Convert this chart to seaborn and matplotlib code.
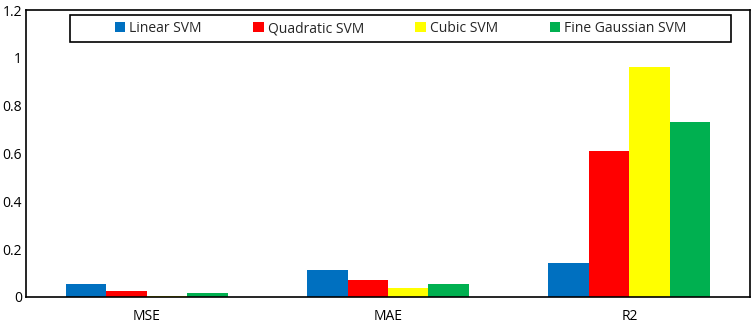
import pandas as pd
import seaborn as sns
import matplotlib.pyplot as plt
from matplotlib.patches import Rectangle

# values
metrics = ["MSE", "MAE", "R2"]
models = ["Linear SVM", "Quadratic SVM", "Cubic SVM", "Fine Gaussian SVM"]
linear_svm = [0.054, 0.113, 0.142]
quadratic_svm = [0.025, 0.071, 0.611]
cubic_svm = [0.003, 0.038, 0.962]
fine_gaussian_svm = [0.017, 0.054, 0.732]
colors = ["#0070C0", "#FF0000", "#FFFF00", "#00B050"]

rows = []
for model, vals in zip(models, [linear_svm, quadratic_svm, cubic_svm, fine_gaussian_svm]):
    for m, v in zip(metrics, vals):
        rows.append({"metric": m, "model": model, "value": v})
df = pd.DataFrame(rows)

sns.set_style("white")
plt.rcParams['font.family'] = ['Open Sans', 'DejaVu Sans']

fig = plt.figure(figsize=(7.51, 3.29), dpi=100)
ax = fig.add_axes([26 / 751, 1 - 297 / 329, 724 / 751, 287 / 329])

sns.barplot(data=df, x="metric", y="value", hue="model", palette=colors,
            width=0.67, saturation=1, linewidth=0, ax=ax, legend=True)

ax.set_ylim(0, 1.2)
ax.set_yticks([0, 0.2, 0.4, 0.6, 0.8, 1, 1.2])
ax.set_yticklabels(["0", "0.2", "0.4", "0.6", "0.8", "1", "1.2"])
ax.set_xlabel("")
ax.set_ylabel("")
ax.tick_params(axis="both", length=0, labelsize=10, colors="black")
ax.tick_params(axis="x", pad=9)
ax.tick_params(axis="y", pad=3)
for s in ax.spines.values():
    s.set_color("black")
    s.set_linewidth(1.2)

# legend entries without frame, box drawn separately
leg = ax.legend(loc="center", bbox_to_anchor=(0.5175, 0.9355), ncol=4,
                frameon=False, fontsize=10, handlelength=0.75, handleheight=0.75,
                handletextpad=0.3, columnspacing=3.7)
box = Rectangle((0.061, 0.888), 0.913, 0.095, transform=ax.transAxes,
                fill=False, edgecolor="black", linewidth=1.2, zorder=5)
ax.add_patch(box)

fig.savefig("out.png", dpi=100)
